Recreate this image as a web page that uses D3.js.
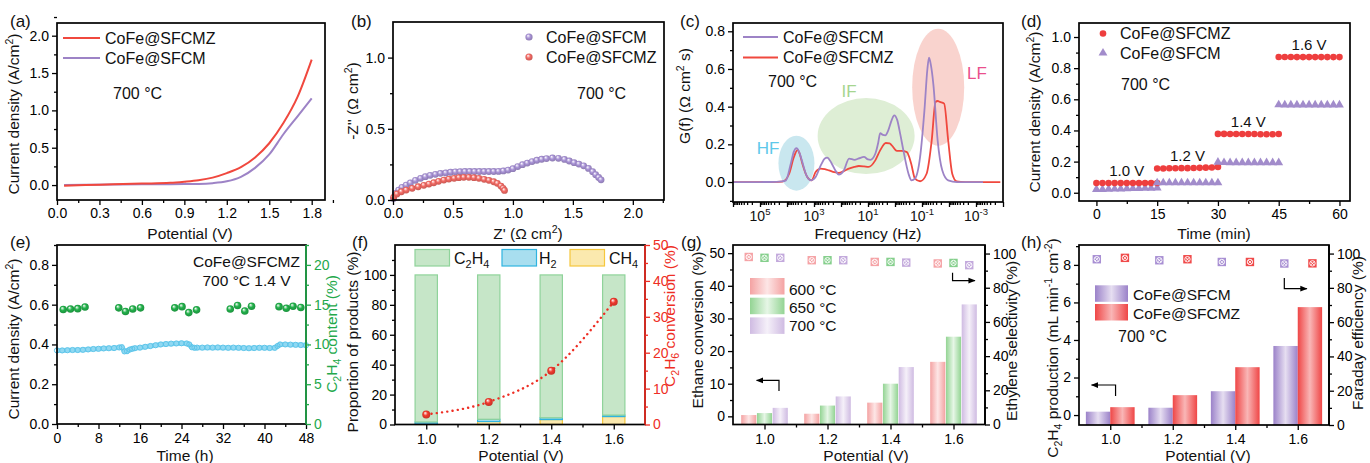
<!DOCTYPE html>
<html>
<head>
<meta charset="utf-8">
<script src="https://cdn.jsdelivr.net/npm/d3@7/dist/d3.min.js"></script>
<style>
  body { margin: 0; background: #fff; }
  svg { display: block; font-family: "Liberation Sans", Arial, Helvetica, sans-serif; }
</style>
</head>
<body>
<script>
// ---------- values ----------
// (a) current density vs potential, 700 °C
const aPotential   = [0.05, 0.2, 0.4, 0.6, 0.8, 0.9, 1.0, 1.1, 1.2, 1.3, 1.4, 1.5, 1.6, 1.7, 1.8];
const aJ_SFCMZ     = [-0.01, 0.0, 0.01, 0.02, 0.03, 0.045, 0.065, 0.1, 0.16, 0.24, 0.37, 0.56, 0.83, 1.18, 1.68];
const aJ_SFCM      = [0.0, 0.004, 0.008, 0.01, 0.012, 0.013, 0.015, 0.025, 0.05, 0.11, 0.23, 0.41, 0.68, 0.92, 1.16];

// (b) Nyquist plots
const bRe_SFCM = [0.005, 0.02, 0.047, 0.075, 0.11, 0.145, 0.187, 0.23, 0.27, 0.31, 0.354, 0.396, 0.44, 0.48, 0.52,
  0.56, 0.6, 0.64, 0.68, 0.72, 0.76, 0.8, 0.84, 0.88, 0.92, 0.96, 1.0, 1.04, 1.08, 1.12, 1.16, 1.2, 1.24, 1.28,
  1.33, 1.38, 1.43, 1.47, 1.51, 1.55, 1.59, 1.63, 1.665, 1.69, 1.715, 1.735];
const bIm_SFCM = [0.01, 0.047, 0.07, 0.089, 0.105, 0.12, 0.138, 0.152, 0.164, 0.173, 0.18, 0.187, 0.19, 0.195, 0.198,
  0.199, 0.2, 0.2, 0.2, 0.2, 0.2, 0.2, 0.2, 0.201, 0.204, 0.21, 0.22, 0.235, 0.248, 0.259, 0.27, 0.279, 0.286, 0.291,
  0.295, 0.293, 0.285, 0.274, 0.262, 0.252, 0.24, 0.222, 0.199, 0.178, 0.158, 0.142];
const bRe_SFCMZ = [0.005, 0.033, 0.07, 0.11, 0.16, 0.21, 0.257, 0.3, 0.34, 0.38, 0.424, 0.466, 0.51, 0.55, 0.59,
  0.633, 0.675, 0.717, 0.76, 0.8, 0.84, 0.87, 0.9, 0.918, 0.93];
const bIm_SFCMZ = [0.019, 0.042, 0.058, 0.07, 0.082, 0.093, 0.103, 0.112, 0.121, 0.131, 0.14, 0.147, 0.152, 0.157, 0.159,
  0.159, 0.157, 0.152, 0.145, 0.138, 0.128, 0.117, 0.098, 0.082, 0.067];

// (c) DRT curves, log10 of frequency in Hz
const cLogF_SFCM = [6.0, 5.0, 4.4, 4.2, 4.04, 3.86, 3.75, 3.65, 3.55, 3.45, 3.28, 3.12, 2.94, 2.75, 2.6, 2.51, 2.35, 2.2,
  2.08, 1.9, 1.7, 1.5, 1.34, 1.15, 1.0, 0.91, 0.73, 0.62, 0.55, 0.45, 0.36, 0.25, 0.12, 0.03, -0.08, -0.2, -0.31, -0.5,
  -0.61, -0.74, -0.93, -1.09, -1.2, -1.26, -1.33, -1.42, -1.58, -1.75, -1.97, -2.3, -3.26];
const cG_SFCM = [0, 0, 0.001, 0.003, 0.009, 0.097, 0.16, 0.18, 0.16, 0.115, 0.035, 0.009, 0.027, 0.088, 0.125, 0.13, 0.1, 0.06,
  0.039, 0.06, 0.124, 0.118, 0.125, 0.133, 0.12, 0.118, 0.15, 0.21, 0.26, 0.25, 0.248, 0.274, 0.33, 0.354, 0.33, 0.25, 0.168, 0.044,
  0.009, 0.018, 0.133, 0.38, 0.6, 0.66, 0.62, 0.52, 0.22, 0.062, 0.009, 0, 0];
const cLogF_SFCMZ = [6.0, 5.0, 4.4, 4.17, 3.92, 3.75, 3.61, 3.52, 3.43, 3.25, 3.09, 2.94, 2.75, 2.6, 2.45, 2.25, 2.08, 1.9,
  1.71, 1.5, 1.34, 1.15, 0.98, 0.73, 0.55, 0.34, 0.2, 0.12, -0.07, -0.25, -0.44, -0.6, -0.74, -0.93, -1.17, -1.36, -1.5,
  -1.58, -1.66, -1.82, -1.97, -2.12, -2.28, -2.6, -3.3, -3.9];
const cG_SFCMZ = [0, 0, 0.001, 0.002, 0.044, 0.13, 0.17, 0.145, 0.097, 0.027, 0.009, 0.053, 0.071, 0.068, 0.062, 0.052, 0.048, 0.058,
  0.071, 0.08, 0.085, 0.083, 0.08, 0.115, 0.168, 0.207, 0.205, 0.195, 0.165, 0.165, 0.159, 0.097, 0.018, 0.004, 0.044, 0.221, 0.425,
  0.43, 0.425, 0.416, 0.221, 0.044, 0.004, 0, 0, 0];
const cLabelExp = [5, 3, 1, -1, -3];

// (d) step test
const dStepTimes = [0, 1.5, 3, 4.5, 6, 7.5, 9, 10.5, 12, 13.5, 15];
const dSegStart  = [0, 15, 30, 45];
const dSegLabel  = ['1.0 V', '1.2 V', '1.4 V', '1.6 V'];
const dJ_SFCMZ = [
  [0.063, 0.063, 0.063, 0.063, 0.063, 0.063, 0.063, 0.063, 0.063, 0.063, 0.063],
  [0.156, 0.156, 0.157, 0.157, 0.158, 0.158, 0.159, 0.16, 0.161, 0.162, 0.166],
  [0.378, 0.378, 0.377, 0.377, 0.377, 0.377, 0.377, 0.376, 0.376, 0.376, 0.377],
  [0.872, 0.872, 0.872, 0.871, 0.871, 0.871, 0.871, 0.871, 0.871, 0.871, 0.871]];
const dJ_SFCM = [
  [0.021, 0.022, 0.023, 0.024, 0.025, 0.026, 0.027, 0.028, 0.029, 0.03, 0.031],
  [0.064, 0.064, 0.064, 0.064, 0.064, 0.064, 0.064, 0.064, 0.064, 0.064, 0.064],
  [0.196, 0.194, 0.193, 0.193, 0.193, 0.193, 0.193, 0.193, 0.193, 0.193, 0.193],
  [0.565, 0.564, 0.564, 0.564, 0.564, 0.564, 0.564, 0.564, 0.564, 0.564, 0.564]];

// (e) 48 h stability at 1.4 V
const eTime = [0, 1, 2, 3, 4, 5, 6, 7, 8, 9, 10, 11, 12, 12.5, 13, 13.5, 14, 14.5, 15, 16, 17, 18, 19, 20, 21, 22, 23, 24,
  25, 25.5, 26, 26.5, 27, 28, 29, 30, 31, 32, 33, 34, 35, 36, 37, 38, 39, 40, 41, 42, 42.5, 43, 44, 45, 46, 47, 48];
const eJ = [0.37, 0.37, 0.371, 0.372, 0.372, 0.373, 0.375, 0.377, 0.378, 0.38, 0.381, 0.382, 0.385, 0.386, 0.365, 0.366,
  0.374, 0.378, 0.381, 0.384, 0.388, 0.392, 0.396, 0.4, 0.402, 0.404, 0.405, 0.406, 0.405, 0.4, 0.386, 0.383, 0.384, 0.384,
  0.385, 0.384, 0.385, 0.384, 0.383, 0.384, 0.383, 0.382, 0.381, 0.382, 0.383, 0.383, 0.382, 0.383, 0.392, 0.4, 0.4, 0.399,
  0.398, 0.397, 0.396];
const eGasTime = [1.2, 2.6, 4.0, 5.4, 11.9, 13.2, 14.6, 16.1, 22.7, 24.1, 25.4, 26.9, 33.4, 34.8, 36.2, 37.5, 42.8, 44.2, 45.5, 47.0];
const eC2H4    = [14.4, 14.45, 14.5, 14.7, 14.6, 14.15, 14.45, 14.6, 14.6, 14.75, 14.0, 14.35, 14.45, 14.9, 14.2, 14.8, 14.75, 14.55, 14.8, 14.65];

// (f) product distribution and conversion
const potentials = [1.0, 1.2, 1.4, 1.6];
const fCH4  = [0.4, 2.0, 3.3, 5.3];
const fH2   = [1.3, 1.5, 1.2, 1.0];
const fC2H4 = [98.3, 96.5, 95.5, 93.7];
const fConversion = [2.8, 6.3, 15.0, 34.2];

// (g) ethane conversion and ethylene selectivity
const gTemps = ['600 °C', '650 °C', '700 °C'];
const gConversion  = [[0.4, 0.8, 4.2, 16.7], [1.0, 3.3, 10.0, 24.4], [2.6, 6.1, 15.1, 34.3]];
const gSelectivity = [[98.0, 96.1, 95.1, 94.2], [97.5, 96.1, 95.1, 94.5], [97.5, 96.1, 94.7, 93.2]];

// (h) C2H4 production and Faraday efficiency
const hSamples = ['CoFe@SFCM', 'CoFe@SFCMZ'];
const hProduction = [[0.18, 0.39, 1.27, 3.68], [0.42, 1.06, 2.55, 5.75]];
const hFaraday    = [[96.7, 96.1, 95.1, 94.2], [97.5, 96.7, 95.1, 94.3]];

// ---------- colours ----------
const RED = '#f0483e', PURPLE = '#9d83c6', GREEN = '#23a84b', CYAN = '#5cc5ea', FRED = '#ee2e24';
const TITLE = 15.5;

const svg = d3.select('body').append('svg').attr('width', 1370).attr('height', 463);
const defs = svg.append('defs');

function sphereGrad(id, c) {
  const g = defs.append('radialGradient').attr('id', id)
    .attr('cx', '50%').attr('cy', '50%').attr('r', '60%').attr('fx', '35%').attr('fy', '30%');
  g.append('stop').attr('offset', '0%').attr('stop-color', '#fff');
  g.append('stop').attr('offset', '45%').attr('stop-color', c);
  g.append('stop').attr('offset', '100%').attr('stop-color', d3.color(c).darker(0.7));
}
sphereGrad('spP', '#a993d6');
sphereGrad('spR', '#f26a64');
sphereGrad('spG', '#22b04a');
sphereGrad('spF', '#f03a2e');

function barGrad(id, dark, light) {
  const g = defs.append('linearGradient').attr('id', id).attr('x1', 0).attr('x2', 1).attr('y1', 0).attr('y2', 0);
  g.append('stop').attr('offset', '0%').attr('stop-color', dark);
  g.append('stop').attr('offset', '50%').attr('stop-color', light);
  g.append('stop').attr('offset', '100%').attr('stop-color', dark);
}
barGrad('g600', '#f4a2a2', '#fde6e6');
barGrad('g650', '#93d493', '#e6f6e6');
barGrad('g700', '#cfbbe2', '#f5f0f9');
barGrad('hM', '#9b82c9', '#e6def1');
barGrad('hZ', '#ef4646', '#f9b6b6');

defs.append('marker').attr('id', 'arrow').attr('viewBox', '0 0 10 10')
  .attr('refX', 9).attr('refY', 5).attr('markerWidth', 6).attr('markerHeight', 6).attr('orient', 'auto')
  .append('path').attr('d', 'M0,1L10,5L0,9z').attr('fill', '#000');

// text with ^{sup} and _{sub}
function rich(t, str, fs) {
  const parts = str.split(/([\^_]\{[^}]*\})/).filter(s => s.length);
  let off = 0;
  parts.forEach(p => {
    let target = 0, txt = p, small = false;
    if (p.startsWith('^{')) { target = -0.4 * fs; txt = p.slice(2, -1); small = true; }
    else if (p.startsWith('_{')) { target = 0.25 * fs; txt = p.slice(2, -1); small = true; }
    const ts = t.append('tspan').attr('dy', target - off).attr('font-size', small ? fs * 0.68 : fs).text(txt);
    off = target;
  });
  return t;
}
function label(x, y, str, o = {}) {
  const fs = o.fs || 16;
  const t = svg.append('text').attr('x', x).attr('y', y).attr('font-size', fs)
    .attr('fill', o.color || '#111').attr('text-anchor', o.anchor || 'start');
  return rich(t, str, fs);
}
function vtitle(x, y, str, o = {}) {
  const fs = o.fs || TITLE;
  const t = svg.append('text').attr('transform', `translate(${x},${y}) rotate(-90)`)
    .attr('dy', '0.36em').attr('font-size', fs).attr('fill', o.color || '#111').attr('text-anchor', 'middle');
  return rich(t, str, fs);
}

function frame(box, x, y, o) {
  const g = svg.append('g');
  const ax = (gen, tx, ty, color) => {
    const a = g.append('g').attr('transform', `translate(${tx},${ty})`).call(gen);
    a.attr('font-size', 14).attr('font-family', null);
    a.select('.domain').remove();
    a.selectAll('.tick line').attr('stroke', color).attr('stroke-width', 1.3);
    a.selectAll('.tick text').attr('fill', color);
    return a;
  };
  const pad = o.xPad || 3.5;
  const xa = ax(d3.axisBottom(x).tickValues(o.xTicks).tickSize(5).tickPadding(pad).tickFormat(o.xFmt || d3.format('.1f')), 0, box.b, '#000');
  if (o.xMinor) ax(d3.axisBottom(x).tickValues(o.xMinor).tickSize(3).tickFormat(''), 0, box.b, '#000');
  ax(d3.axisLeft(y).tickValues(o.yTicks).tickSize(5).tickPadding(3).tickFormat(o.yFmt || d3.format('.1f')), box.l, 0, '#000');
  if (o.yMinor) ax(d3.axisLeft(y).tickValues(o.yMinor).tickSize(3).tickFormat(''), box.l, 0, '#000');
  g.append('rect').attr('x', box.l).attr('y', box.t).attr('width', box.r - box.l).attr('height', box.b - box.t)
    .attr('fill', 'none').attr('stroke', '#000').attr('stroke-width', 1.7);
  if (o.yR) {
    const c = o.yRColor || '#000';
    ax(d3.axisRight(o.yR).tickValues(o.yRTicks).tickSize(5).tickPadding(3).tickFormat(d3.format('d')), box.r, 0, c);
    if (o.yRMinor) ax(d3.axisRight(o.yR).tickValues(o.yRMinor).tickSize(3).tickFormat(''), box.r, 0, c);
    g.append('line').attr('x1', box.r).attr('x2', box.r).attr('y1', box.t).attr('y2', box.b)
      .attr('stroke', c).attr('stroke-width', 1.7);
  }
  return xa;
}
const range = (a, b, s) => d3.range(a, b + s / 2, s);

// ================= (a) =================
const aBox = { l: 57, r: 325, t: 23, b: 200 };
const aX = d3.scaleLinear().domain([0, 1.894]).range([aBox.l, aBox.r]);
const aY = d3.scaleLinear().domain([-0.2, 2.17]).range([aBox.b, aBox.t]);
const aG = svg.append('g');
const aLine = d3.line().x(d => aX(d[0])).y(d => aY(d[1])).curve(d3.curveMonotoneX);
aG.append('path').attr('d', aLine(d3.zip(aPotential, aJ_SFCM))).attr('fill', 'none').attr('stroke', PURPLE).attr('stroke-width', 2);
aG.append('path').attr('d', aLine(d3.zip(aPotential, aJ_SFCMZ))).attr('fill', 'none').attr('stroke', RED).attr('stroke-width', 2);
frame(aBox, aX, aY, { xTicks: range(0, 1.8, 0.3), xMinor: range(0.15, 1.85, 0.3), yTicks: range(0, 2, 0.5), yMinor: range(-0.25, 2.1, 0.5).filter(v => v > -0.2) });
[['CoFe@SFCMZ', RED], ['CoFe@SFCM', PURPLE]].forEach((d, i) => {
  svg.append('line').attr('x1', 63).attr('x2', 100).attr('y1', 38 + i * 20).attr('y2', 38 + i * 20).attr('stroke', d[1]).attr('stroke-width', 2);
  label(105, 43.5 + i * 20, d[0]);
});
label(113, 99, '700 °C');
label(190, 239, 'Potential (V)', { fs: TITLE, anchor: 'middle' });
vtitle(19, 114, 'Current density (A/cm^{2})');

// ================= (b) =================
const bBox = { l: 393, r: 664, t: 22, b: 200 };
const bX = d3.scaleLinear().domain([0, 2.26]).range([bBox.l, bBox.r]);
const bY = d3.scaleLinear().domain([0, 1.25]).range([bBox.b, bBox.t]);
const bG = svg.append('g');
bG.selectAll('.pm').data(d3.zip(bRe_SFCM, bIm_SFCM)).join('circle')
  .attr('cx', d => bX(d[0])).attr('cy', d => bY(d[1])).attr('r', 3.4).attr('fill', 'url(#spP)');
bG.selectAll('.pz').data(d3.zip(bRe_SFCMZ, bIm_SFCMZ)).join('circle')
  .attr('cx', d => bX(d[0])).attr('cy', d => bY(d[1])).attr('r', 3.4).attr('fill', 'url(#spR)');
frame(bBox, bX, bY, { xTicks: range(0, 2, 0.5), xMinor: range(0.25, 2.25, 0.5), yTicks: [0, 0.5, 1], yMinor: [0.25, 0.75] });
[['CoFe@SFCM', 'url(#spP)'], ['CoFe@SFCMZ', 'url(#spR)']].forEach((d, i) => {
  svg.append('circle').attr('cx', 529).attr('cy', 37 + i * 20).attr('r', 3.6).attr('fill', d[1]);
  label(546, 43 + i * 20, d[0]);
});
label(577, 99, '700 °C');
label(528, 239, "Z' (Ω cm^{2})", { fs: TITLE, anchor: 'middle' });
vtitle(358, 101, "-Z'' (Ω cm^{2})");

// ================= (c) =================
const cBox = { l: 733, r: 1003, t: 23, b: 202 };
const cX = d3.scaleLog().domain([1e6, 1e-4]).range([cBox.l, cBox.r]);
const cY = d3.scaleLinear().domain([-0.106, 0.844]).range([cBox.b, cBox.t]);
const cG = svg.append('g');
[[3.65, 0.1, 18, 27.5, '#c9e7ef'], [1.07, 0.244, 48.5, 38, '#deeed5'], [-1.6, 0.503, 26, 58.5, '#f9d3ce']].forEach(e => {
  cG.append('ellipse').attr('cx', cX(10 ** e[0])).attr('cy', cY(e[1])).attr('rx', e[2]).attr('ry', e[3]).attr('fill', e[4]);
});
const cLine = d3.line().x(d => cX(10 ** d[0])).y(d => cY(d[1])).curve(d3.curveMonotoneX);
cG.append('path').attr('d', cLine(d3.zip(cLogF_SFCMZ, cG_SFCMZ))).attr('fill', 'none').attr('stroke', RED).attr('stroke-width', 1.8);
cG.append('path').attr('d', cLine(d3.zip(cLogF_SFCM, cG_SFCM))).attr('fill', 'none').attr('stroke', PURPLE).attr('stroke-width', 1.8);
const cDecades = range(-4, 6, 1).map(e => 10 ** e);
const cMinor = [];
range(-4, 5, 1).forEach(e => { for (let k = 2; k <= 9; k++) cMinor.push(k * 10 ** e); });
frame(cBox, cX, cY, { xTicks: cDecades, xMinor: cMinor, xFmt: () => '', yTicks: range(0, 0.8, 0.2), yMinor: range(-0.1, 0.8, 0.2) });
cLabelExp.forEach(e => label(cX(10 ** e), cBox.b + 18.5, '10^{' + e + '}', { fs: 14, anchor: 'middle' }));
[['CoFe@SFCM', PURPLE], ['CoFe@SFCMZ', RED]].forEach((d, i) => {
  svg.append('line').attr('x1', 743).attr('x2', 778).attr('y1', 37 + i * 20.5).attr('y2', 37 + i * 20.5).attr('stroke', d[1]).attr('stroke-width', 2);
  label(783, 42.5 + i * 20.5, d[0]);
});
label(768, 86.5, '700 °C');
label(768, 154, 'HF', { color: '#5ec8ea', anchor: 'middle', fs: 17 });
label(849, 96.5, 'IF', { color: '#a6d58f', anchor: 'middle', fs: 17 });
label(977, 79, 'LF', { color: '#ea4f8c', anchor: 'middle', fs: 17 });
label(868, 239, 'Frequency (Hz)', { fs: TITLE, anchor: 'middle' });
vtitle(690, 96, 'G(f) (Ω cm^{2} s)');

// ================= (d) =================
const dBox = { l: 1079, r: 1350, t: 23, b: 201 };
const dX = d3.scaleLinear().domain([-4.3, 62.6]).range([dBox.l, dBox.r]);
const dY = d3.scaleLinear().domain([-0.053, 1.09]).range([dBox.b, dBox.t]);
const dG = svg.append('g');
const tri = d3.symbol().type(d3.symbolTriangle).size(34);
dSegStart.forEach((s, k) => {
  dStepTimes.forEach((t, i) => {
    dG.append('path').attr('d', tri).attr('transform', `translate(${dX(s + t)},${dY(dJ_SFCM[k][i])})`).attr('fill', '#a28ccb');
  });
  dStepTimes.forEach((t, i) => {
    dG.append('circle').attr('cx', dX(s + t)).attr('cy', dY(dJ_SFCMZ[k][i])).attr('r', 3.3).attr('fill', '#ee3e3e');
  });
  label(dX(s + 7.5), dY(dJ_SFCMZ[k][5] + 0.083) + 5.5, dSegLabel[k], { fs: 15, anchor: 'middle' });
});
frame(dBox, dX, dY, { xTicks: [0, 15, 30, 45, 60], xMinor: [7.5, 22.5, 37.5, 52.5], xFmt: d3.format('d'), yTicks: range(0, 1, 0.2), yMinor: range(0.1, 1.0, 0.2) });
svg.append('circle').attr('cx', 1103).attr('cy', 33.5).attr('r', 3.3).attr('fill', '#ee3e3e');
label(1120, 39, 'CoFe@SFCMZ');
svg.append('path').attr('d', tri).attr('transform', 'translate(1103,53)').attr('fill', '#a28ccb');
label(1120, 58.5, 'CoFe@SFCM');
label(1121, 90, '700 °C');
label(1214, 239, 'Time (min)', { fs: TITLE, anchor: 'middle' });
vtitle(1040, 112, 'Current density (A/cm^{2})');

// ================= (e) =================
const eBox = { l: 57, r: 306, t: 245, b: 424 };
const eX = d3.scaleLinear().domain([0, 48]).range([eBox.l, eBox.r]);
const eY = d3.scaleLinear().domain([0, 0.9]).range([eBox.b, eBox.t]);
const eYR = d3.scaleLinear().domain([0, 22.5]).range([eBox.b, eBox.t]);
const eG = svg.append('g');
eG.append('path').attr('d', d3.line().x(d => eX(d[0])).y(d => eY(d[1]))(d3.zip(eTime, eJ)))
  .attr('fill', 'none').attr('stroke', '#8fd8f2').attr('stroke-width', 5);
eG.selectAll('.ej').data(d3.zip(eTime, eJ)).join('circle')
  .attr('cx', d => eX(d[0])).attr('cy', d => eY(d[1])).attr('r', 2.6)
  .attr('fill', 'none').attr('stroke', CYAN).attr('stroke-width', 1);
eG.selectAll('.eg').data(d3.zip(eGasTime, eC2H4)).join('circle')
  .attr('cx', d => eX(d[0])).attr('cy', d => eYR(d[1])).attr('r', 3.8).attr('fill', 'url(#spG)');
frame(eBox, eX, eY, { xTicks: range(0, 48, 8), xMinor: range(4, 44, 8), xFmt: d3.format('d'), xPad: 4.5, yTicks: range(0, 0.8, 0.2), yMinor: range(0.1, 0.9, 0.2),
  yR: eYR, yRTicks: range(0, 20, 5), yRMinor: range(2.5, 22.5, 5), yRColor: GREEN });
label(246.5, 267, 'CoFe@SFCMZ', { anchor: 'middle', fs: 15.5 });
label(246.5, 285.5, '700 °C 1.4 V', { anchor: 'middle', fs: 15.5 });
label(185, 461, 'Time (h)', { fs: TITLE, anchor: 'middle' });
vtitle(19, 339, 'Current density (A/cm^{2})');
vtitle(337, 334, 'C_{2}H_{4} content (%)', { color: GREEN });

// ================= (f) =================
const fBox = { l: 395, r: 645, t: 245, b: 424.5 };
const fX = d3.scaleLinear().domain([0.9, 1.7]).range([fBox.l, fBox.r]);
const fY = d3.scaleLinear().domain([0, 120]).range([fBox.b, fBox.t]);
const fYR = d3.scaleLinear().domain([0, 50]).range([fBox.b, fBox.t]);
const fG = svg.append('g');
const fBw = fX(0.0714) - fX(0);
const fStack = [[fCH4, '#fbe9ae', '#f6c73c'], [fH2, '#a8deef', '#2fb4e0'], [fC2H4, '#c6e6c8', '#8fd39a']];
potentials.forEach((p, i) => {
  let base = 0;
  fStack.forEach(s => {
    const v = s[0][i];
    fG.append('rect').attr('x', fX(p) - fBw / 2).attr('width', fBw).attr('y', fY(base + v)).attr('height', fY(base) - fY(base + v))
      .attr('fill', s[1]).attr('stroke', s[2]).attr('stroke-width', 1.2);
    base += v;
  });
});
fG.append('path').attr('d', d3.line().x(d => fX(d[0])).y(d => fYR(d[1])).curve(d3.curveMonotoneX)(d3.zip(potentials, fConversion)))
  .attr('fill', 'none').attr('stroke', FRED).attr('stroke-width', 2.4).attr('stroke-dasharray', '0.1 5.2').attr('stroke-linecap', 'round');
fG.selectAll('.fc').data(d3.zip(potentials, fConversion)).join('circle')
  .attr('cx', d => fX(d[0])).attr('cy', d => fYR(d[1])).attr('r', 4).attr('fill', 'url(#spF)');
frame(fBox, fX, fY, { xTicks: potentials, xMinor: [1.1, 1.3, 1.5], xPad: 4.5, yTicks: range(0, 100, 20), yMinor: range(10, 110, 20), yFmt: d3.format('d'),
  yR: fYR, yRTicks: range(0, 50, 10), yRMinor: range(5, 45, 10), yRColor: FRED });
[['C_{2}H_{4}', '#c6e6c8', '#8fd39a', 415, 454], ['H_{2}', '#a8deef', '#2fb4e0', 502, 539], ['CH_{4}', '#fbe9ae', '#f6c73c', 570, 609]].forEach(d => {
  svg.append('rect').attr('x', d[3]).attr('y', 249.5).attr('width', 34.5).attr('height', 16.5).attr('fill', d[1]).attr('stroke', d[2]).attr('stroke-width', 1.2);
  label(d[4], 263.5, d[0]);
});
label(521, 461, 'Potential (V)', { fs: TITLE, anchor: 'middle' });
vtitle(358, 342, 'Proportion of products (%)');
vtitle(675, 316, 'C_{2}H_{6} conversion (%)', { color: FRED });

// marker: square with crossed circle
function crossMark(g, cx, cy, fill) {
  g.append('rect').attr('x', cx - 4.2).attr('y', cy - 4.2).attr('width', 8.4).attr('height', 8.4).attr('fill', fill);
  g.append('circle').attr('cx', cx).attr('cy', cy).attr('r', 2.7).attr('fill', 'none').attr('stroke', '#fff').attr('stroke-width', 0.9);
  g.append('path').attr('d', `M${cx - 1.8},${cy - 1.8}L${cx + 1.8},${cy + 1.8}M${cx - 1.8},${cy + 1.8}L${cx + 1.8},${cy - 1.8}`)
    .attr('stroke', '#fff').attr('stroke-width', 0.9);
}
function elbow(pts) {
  svg.append('path').attr('d', d3.line()(pts)).attr('fill', 'none').attr('stroke', '#000').attr('stroke-width', 1.2).attr('marker-end', 'url(#arrow)');
}

// ================= (g) =================
const gBox = { l: 733, r: 985, t: 245, b: 424.5 };
const gX = d3.scaleLinear().domain([0.9, 1.7]).range([gBox.l, gBox.r]);
const gY = d3.scaleLinear().domain([-2.5, 52.5]).range([gBox.b, gBox.t]);
const gYR = d3.scaleLinear().domain([0, 105]).range([gBox.b, gBox.t]);
const gGr = svg.append('g');
const gFill = ['url(#g600)', 'url(#g650)', 'url(#g700)'];
const gMark = ['#f5a3a6', '#85cf8c', '#c3a9dc'];
const gOff = [-0.05, 0, 0.05], gBw = gX(0.048) - gX(0);
gConversion.forEach((ser, k) => ser.forEach((v, i) => {
  gGr.append('rect').attr('x', gX(potentials[i] + gOff[k]) - gBw / 2).attr('width', gBw)
    .attr('y', gY(v)).attr('height', gBox.b - gY(v)).attr('fill', gFill[k]);
}));
gSelectivity.forEach((ser, k) => ser.forEach((v, i) => crossMark(gGr, gX(potentials[i] + gOff[k]), gYR(v), gMark[k])));
frame(gBox, gX, gY, { xTicks: potentials, xMinor: [1.1, 1.3, 1.5], xPad: 4.5, yTicks: range(0, 50, 10), yMinor: range(5, 45, 10), yFmt: d3.format('d'),
  yR: gYR, yRTicks: range(0, 100, 20), yRMinor: range(10, 90, 20) });
gTemps.forEach((t, k) => {
  svg.append('rect').attr('x', 750).attr('y', 278 + k * 19.7).attr('width', 34.5).attr('height', 16.5).attr('fill', gFill[k]);
  label(789, 294.5 + k * 18.3, t, { fs: 15.5 });
});
elbow([[gX(1.046), gY(7.8)], [gX(1.046), gY(11)], [gX(0.975), gY(11)]]);
elbow([[gX(1.597), gYR(88.7)], [gX(1.597), gYR(84.2)], [gX(1.668), gYR(84.2)]]);
label(866, 461, 'Potential (V)', { fs: TITLE, anchor: 'middle' });
vtitle(703, 330, 'Ethane conversion (%)');
vtitle(1017, 341, 'Ethylene selectivity (%)');

// ================= (h) =================
const hBox = { l: 1079, r: 1329, t: 245, b: 425 };
const hX = d3.scaleLinear().domain([0.9, 1.7]).range([hBox.l, hBox.r]);
const hY = d3.scaleLinear().domain([-0.53, 9.06]).range([hBox.b, hBox.t]);
const hYR = d3.scaleLinear().domain([0, 105]).range([hBox.b, hBox.t]);
const hG = svg.append('g');
const hFill = ['url(#hM)', 'url(#hZ)'], hMark = ['#a88fd3', '#f04a4a'];
const hOff = [-0.039, 0.039], hBw = hX(0.078) - hX(0);
hProduction.forEach((ser, k) => ser.forEach((v, i) => {
  hG.append('rect').attr('x', hX(potentials[i] + hOff[k]) - hBw / 2).attr('width', hBw)
    .attr('y', hY(v)).attr('height', hBox.b - hY(v)).attr('fill', hFill[k]);
}));
hFaraday.forEach((ser, k) => ser.forEach((v, i) => crossMark(hG, hX(potentials[i] + (k ? 0.047 : -0.043)), hYR(v), hMark[k])));
frame(hBox, hX, hY, { xTicks: potentials, xMinor: [1.1, 1.3, 1.5], xPad: 4.5, yTicks: range(0, 8, 2), yMinor: range(1, 9, 2), yFmt: d3.format('d'),
  yR: hYR, yRTicks: range(0, 100, 20), yRMinor: range(10, 90, 20) });
hSamples.forEach((s, k) => {
  svg.append('rect').attr('x', 1095).attr('y', 285.3 + k * 18.7).attr('width', 33).attr('height', 16.5).attr('fill', hFill[k]);
  label(1133, 299.5 + k * 19, s, { fs: 15.5 });
});
label(1118, 342, '700 °C');
elbow([[hX(1.017), hY(1.01)], [hX(1.017), hY(1.6)], [hX(0.94), hY(1.6)]]);
elbow([[hX(1.557), hYR(85.8)], [hX(1.557), hYR(79.5)], [hX(1.629), hYR(79.5)]]);
label(1208, 461, 'Potential (V)', { fs: TITLE, anchor: 'middle' });
vtitle(1058, 348, 'C_{2}H_{4} production (mL min^{-1} cm^{-2})');
vtitle(1363, 333, 'Faraday efficiency (%)');

// panel letters
[['(a)', 10, 27], ['(b)', 351, 27], ['(c)', 680, 27], ['(d)', 1021, 27], ['(e)', 10, 248], ['(f)', 352, 248], ['(g)', 681, 248], ['(h)', 1021, 248]]
  .forEach(d => label(d[1], d[2], d[0], { fs: 17 }));
</script>
</body>
</html>
